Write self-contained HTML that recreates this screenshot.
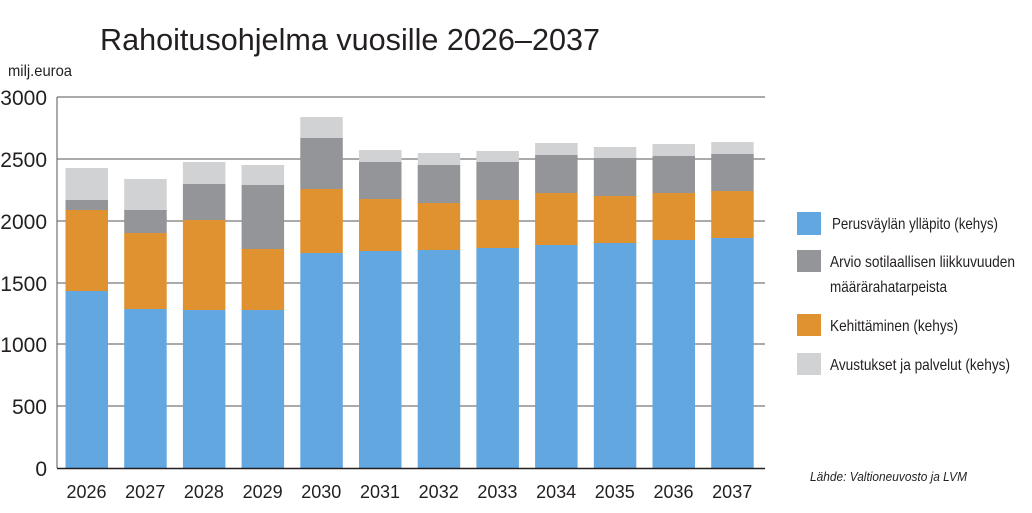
<!DOCTYPE html>
<html><head><meta charset="utf-8"><style>
body{margin:0;background:#fff}
svg text{font-family:"Liberation Sans",sans-serif;fill:#231f20}
</style></head><body>
<svg width="1032" height="508" viewBox="0 0 1032 508" xmlns="http://www.w3.org/2000/svg">
<text x="100" y="50" font-size="31" textLength="500" lengthAdjust="spacingAndGlyphs">Rahoitusohjelma vuosille 2026–2037</text>
<text x="8" y="76" font-size="16" textLength="64" lengthAdjust="spacingAndGlyphs">milj.euroa</text>
<g stroke="#555" stroke-width="1">
<line x1="57" y1="97" x2="765" y2="97"/><line x1="57" y1="159" x2="765" y2="159"/>
<line x1="57" y1="221" x2="765" y2="221"/><line x1="57" y1="283" x2="765" y2="283"/>
<line x1="57" y1="344" x2="765" y2="344"/><line x1="57" y1="406" x2="765" y2="406"/>
<line x1="57" y1="97" x2="57" y2="468"/>
</g>
<g font-size="21" text-anchor="end">
<text x="47" y="105">3000</text><text x="47" y="167">2500</text><text x="47" y="229">2000</text>
<text x="47" y="291">1500</text><text x="47" y="352">1000</text><text x="47" y="414">500</text><text x="47" y="476">0</text>
</g>
<g id="bars"></g>
<line x1="57" y1="468.5" x2="765" y2="468.5" stroke="#231f20" stroke-width="1.5"/>
<g font-size="18" text-anchor="middle" id="xl"></g>
<rect x="797" y="212" width="24" height="23" fill="#62a7df"/>
<rect x="797" y="250" width="24" height="22" fill="#939598"/>
<rect x="797" y="314" width="24" height="22" fill="#e09230"/>
<rect x="797" y="353" width="24" height="22" fill="#d1d2d4"/>
<g font-size="16">
<text x="832" y="229" textLength="166" lengthAdjust="spacingAndGlyphs">Perusväylän ylläpito (kehys)</text>
<text x="830" y="267" textLength="185" lengthAdjust="spacingAndGlyphs">Arvio sotilaallisen liikkuvuuden</text>
<text x="830" y="292" textLength="117" lengthAdjust="spacingAndGlyphs">määrärahatarpeista</text>
<text x="830" y="331" textLength="128" lengthAdjust="spacingAndGlyphs">Kehittäminen (kehys)</text>
<text x="830" y="370" textLength="180" lengthAdjust="spacingAndGlyphs">Avustukset ja palvelut (kehys)</text>
<text x="810" y="481" font-size="13" font-style="italic" fill="#444" textLength="157" lengthAdjust="spacingAndGlyphs">Lähde: Valtioneuvosto ja LVM</text>
</g>
<script>
var d=[[291,210,200,168],[309,233,210,179],[310,220,184,162],[310,249,185,165],[253,189,138,117],[251,199,162,150],[250,203,165,153],[248,200,162,151],[245,193,155,143],[243,196,158,147],[240,193,156,144],[238,191,154,142]];
var c=["#62a7df","#e09230","#939598","#d1d2d4"],ns="http://www.w3.org/2000/svg",g=document.getElementById("bars"),xl=document.getElementById("xl");
d.forEach(function(v,i){var x=65.5+i*58.7,prev=468;
for(var k=0;k<4;k++){var r=document.createElementNS(ns,"rect");r.setAttribute("x",x);r.setAttribute("width",42.5);r.setAttribute("y",v[k]);r.setAttribute("height",prev-v[k]);r.setAttribute("fill",c[k]);g.appendChild(r);prev=v[k];}
var t=document.createElementNS(ns,"text");t.setAttribute("x",x+21);t.setAttribute("y",498);t.textContent=2026+i;xl.appendChild(t);});
</script>
</svg>
</body></html>
